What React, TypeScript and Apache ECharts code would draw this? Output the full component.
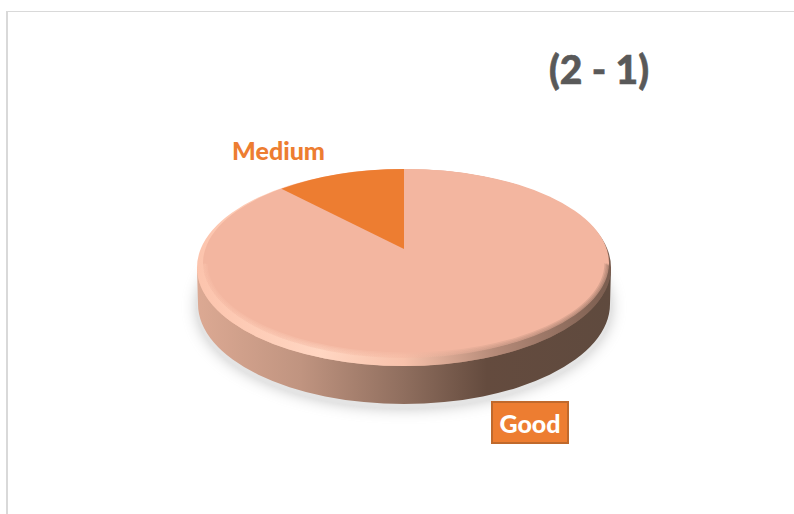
import React, { useEffect, useRef } from "react";
import * as echarts from "echarts";

const categories = ["Good", "Medium"];
const values = [89.5, 10.5];
const sliceColors = ["#f3b6a0", "#ed7d31"];
const titleText = "(2 - 1)";
const FONT = "Lato, 'Open Sans', sans-serif";

const total = values.reduce((a, b) => a + b, 0);
const cx = 404;
const apexY = 249;
const top = { cy: 263.5, rx: 200, ry: 94.5 };
const softLayers = [0, 1, 2, 3];

const rimFill = {
  type: "linear", x: 0, y: 0, x2: 1, y2: 0,
  colorStops: [
    { offset: 0, color: "#fcc4ad" },
    { offset: 0.3, color: "#ffd6c2" },
    { offset: 0.5, color: "#f8c2ab" },
    { offset: 0.72, color: "#b58a78" },
    { offset: 1, color: "#7a5d4f" },
  ],
};

const ellipsePath = (x: number, y: number, rx: number, ry: number) =>
  `M${x - rx} ${y}A${rx} ${ry} 0 1 1 ${x + rx} ${y}A${rx} ${ry} 0 1 1 ${x - rx} ${y}Z`;

const pointAt = (frac: number) => {
  const a = frac * Math.PI * 2;
  return [cx + top.rx * Math.sin(a), top.cy - top.ry * Math.cos(a)];
};

export default function App() {
  const ref = useRef<HTMLDivElement>(null);
  useEffect(() => {
    document.body.style.margin = "0";
    document.body.style.background = "#ffffff";
    const chart = echarts.init(ref.current!, undefined, { renderer: "svg" });
    chart.setOption({
      animation: false,
      backgroundColor: "#ffffff",
      title: {
        text: titleText,
        left: 544,
        top: 44,
        textStyle: {
          color: "#595959", fontFamily: FONT, fontWeight: 900, fontSize: 39,
          textBorderColor: "#595959", textBorderWidth: 0.6,
        },
      },
      graphic: [
        { type: "rect", shape: { x: 6, y: 11, width: 788, height: 1 }, style: { fill: "#d9d9d9" } },
        { type: "rect", shape: { x: 6, y: 11, width: 2, height: 503 }, style: { fill: "#d9d9d9" } },
      ],
      series: [
        {
          type: "custom",
          coordinateSystem: "none",
          silent: true,
          data: [0],
          z: 1,
          renderItem: () => ({
            type: "group",
            children: [
              {
                type: "path",
                shape: { pathData: ellipsePath(cx, 307, 208, 102) },
                style: { fill: "#e4e4e4", shadowBlur: 14, shadowColor: "#c8c8c8" },
              },
              {
                type: "path",
                shape: {
                  pathData: `M197 268L198 304A206 100 0 0 0 610 304L611 268Z`,
                },
                style: {
                  fill: {
                    type: "linear", x: 0, y: 0, x2: 1, y2: 0,
                    colorStops: [
                      { offset: 0, color: "#dca993" },
                      { offset: 0.25, color: "#c09480" },
                      { offset: 0.5, color: "#8f6e5e" },
                      { offset: 0.7, color: "#644b3e" },
                      { offset: 1, color: "#5f4a3e" },
                    ],
                  },
                },
              },
              {
                type: "path",
                shape: { pathData: ellipsePath(cx, 267.5, 207, 98.5) },
                style: { fill: rimFill },
              },
              {
                type: "path",
                shape: { pathData: ellipsePath(406, 263, 203, 94) },
                style: { fill: sliceColors[0] },
              },
            ],
          }),
        },
        {
          type: "custom",
          coordinateSystem: "none",
          silent: true,
          z: 2,
          data: values.map((v, i) => [v, i]),
          renderItem: (_p: any, api: any) => {
            const i = api.value(1);
            const start = values.slice(0, i).reduce((a, b) => a + b, 0) / total;
            const frac = api.value(0) / total;
            const [sx, sy] = pointAt(start);
            const [ex, ey] = pointAt(start + frac);
            const large = frac > 0.5 ? 1 : 0;
            return {
              type: "path",
              shape: {
                pathData: `M${cx} ${apexY}L${sx} ${sy}A${top.rx} ${top.ry} 0 ${large} 1 ${ex} ${ey}Z`,
              },
              style: { fill: sliceColors[i] },
            };
          },
        },
        {
          type: "custom",
          coordinateSystem: "none",
          silent: true,
          z: 3,
          data: softLayers,
          renderItem: (_p: any, api: any) => {
            const k = api.value(0);
            const rx = 203 - k * 1.5;
            const ry = 94 - k * 1.5;
            return {
              type: "path",
              shape: {
                pathData: `M197 267.5A207 98.5 0 0 0 611 267.5L${406 + rx} 263A${rx} ${ry} 0 0 1 ${406 - rx} 263Z`,
              },
              style: { fill: rimFill, opacity: 0.22 },
            };
          },
        },
        {
          type: "custom",
          coordinateSystem: "none",
          silent: true,
          z: 4,
          data: categories.map((_, i) => i),
          renderItem: (_p: any, api: any) => {
            const i = api.value(0);
            if (categories[i] === "Good") {
              return {
                type: "group",
                children: [
                  {
                    type: "rect",
                    shape: { x: 492, y: 402, width: 76, height: 41 },
                    style: { fill: "#ed7d31", stroke: "#c0692c", lineWidth: 2 },
                  },
                  {
                    type: "text",
                    x: 530,
                    y: 423,
                    style: {
                      text: categories[i], fill: "#ffffff", font: `900 25px ${FONT}`,
                      align: "center", verticalAlign: "middle",
                    },
                  },
                ],
              };
            }
            return {
              type: "text",
              x: 278.5,
              y: 150,
              style: {
                text: categories[i], fill: "#ed7d31", font: `900 25px ${FONT}`,
                align: "center", verticalAlign: "middle",
              },
            };
          },
        },
      ],
    });
    return () => chart.dispose();
  }, []);
  return <div ref={ref} style={{ position: "absolute", left: 0, top: 0, width: 794, height: 514 }} />;
}
